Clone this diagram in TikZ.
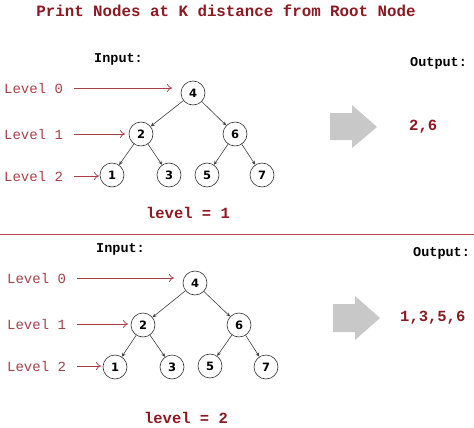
\documentclass[tikz,border=0pt]{standalone}
\usepackage{fontspec}
\setmonofont{Liberation Mono}
\setsansfont{DejaVu Sans}
\usetikzlibrary{arrows.meta}
\definecolor{titlered}{HTML}{8B1A22}
\definecolor{lvlred}{HTML}{A8404A}
\definecolor{linered}{HTML}{B84858}
\definecolor{arrgray}{HTML}{C8C8C8}
\tikzset{
  tn/.style={circle,draw=black!80,line width=0.6pt,minimum size=24pt,inner sep=0pt,font=\sffamily\bfseries\fontsize{11.5}{12}\selectfont},
  lvl/.style={anchor=west,text=lvlred,font=\ttfamily\fontsize{14}{14}\selectfont,inner sep=0pt},
  lvlarr/.style={draw=lvlred,line width=0.7pt,-{To[length=5pt,width=8pt]}},
  edge/.style={draw=black!75,line width=0.6pt,-{Stealth[length=4pt,width=3.5pt]}},
  io/.style={anchor=west,font=\ttfamily\bfseries\fontsize{13.5}{14}\selectfont,inner sep=0pt},
  res/.style={anchor=west,text=titlered,font=\ttfamily\bfseries\fontsize{15.5}{16}\selectfont,inner sep=0pt},
  blk/.style={fill=arrgray,draw=none}
}
\begin{document}
\begin{tikzpicture}[x=1pt,y=-1pt]
\useasboundingbox[fill=white] (0,0) rectangle (474,428);
\node[text=titlered,font=\ttfamily\bfseries\fontsize{15.8}{16}\selectfont,inner sep=0pt] (title) at (226,11) {Print Nodes at K distance from Root Node};

% ---------- top ----------
\node[io] (in1) at (94,59) {Input:};
\node[io] (out1) at (410,63) {Output:};
\node[tn] (a4) at (193,93) {4};
\node[tn] (a2) at (141,134) {2};
\node[tn] (a6) at (235,134) {6};
\node[tn] (a1) at (112,175) {1};
\node[tn] (a3) at (169,175) {3};
\node[tn] (a5) at (207,175) {5};
\node[tn] (a7) at (262,175) {7};
\draw[edge] (a4) -- (a2);
\draw[edge] (a4) -- (a6);
\draw[edge] (a2) -- (a1);
\draw[edge] (a2) -- (a3);
\draw[edge] (a6) -- (a5);
\draw[edge] (a6) -- (a7);
\node[lvl] (l0a) at (4,88) {Level 0};
\node[lvl] (l1a) at (4,134) {Level 1};
\node[lvl] (l2a) at (4,176) {Level 2};
\coordinate (e0a) at (172,88);
\coordinate (e1a) at (125,134);
\coordinate (e2a) at (99,176);
\draw[lvlarr] (74,88) -- (e0a);
\draw[lvlarr] (74,134) -- (e1a);
\draw[lvlarr] (74,176) -- (e2a);
\node[text=titlered,font=\ttfamily\bfseries\fontsize{15.5}{16}\selectfont,inner sep=0pt] (k1) at (188,213) {level = 1};
\fill[blk] (330,113) -- (352,113) -- (352,105) -- (377,127) -- (352,148) -- (352,140) -- (330,140) -- cycle;
\node[res] (r1) at (409,127) {2,6};

% ---------- separator ----------
\draw[linered,line width=1pt] (0,234) -- (474,234);

% ---------- bottom ----------
\node[io] (in2) at (96,249) {Input:};
\node[io] (out2) at (413,253) {Output:};
\node[tn] (b4) at (195,283) {4};
\node[tn] (b2) at (143,325) {2};
\node[tn] (b6) at (239,325) {6};
\node[tn] (b1) at (115,367) {1};
\node[tn] (b3) at (172,367) {3};
\node[tn] (b5) at (210,366) {5};
\node[tn] (b7) at (266,367) {7};
\draw[edge] (b4) -- (b2);
\draw[edge] (b4) -- (b6);
\draw[edge] (b2) -- (b1);
\draw[edge] (b2) -- (b3);
\draw[edge] (b6) -- (b5);
\draw[edge] (b6) -- (b7);
\node[lvl] (l0b) at (7,278) {Level 0};
\node[lvl] (l1b) at (7,324) {Level 1};
\node[lvl] (l2b) at (7,366) {Level 2};
\coordinate (e0b) at (174,278);
\coordinate (e1b) at (128,324);
\coordinate (e2b) at (101,366);
\draw[lvlarr] (77,278) -- (e0b);
\draw[lvlarr] (77,324) -- (e1b);
\draw[lvlarr] (77,366) -- (e2b);
\node[text=titlered,font=\ttfamily\bfseries\fontsize{15.5}{16}\selectfont,inner sep=0pt] (k2) at (186,418) {level = 2};
\fill[blk] (333,304) -- (355,304) -- (355,296) -- (380,318) -- (355,340) -- (355,332) -- (333,332) -- cycle;
\node[res] (r2) at (400,318) {1,3,5,6};
\end{tikzpicture}
\end{document}
